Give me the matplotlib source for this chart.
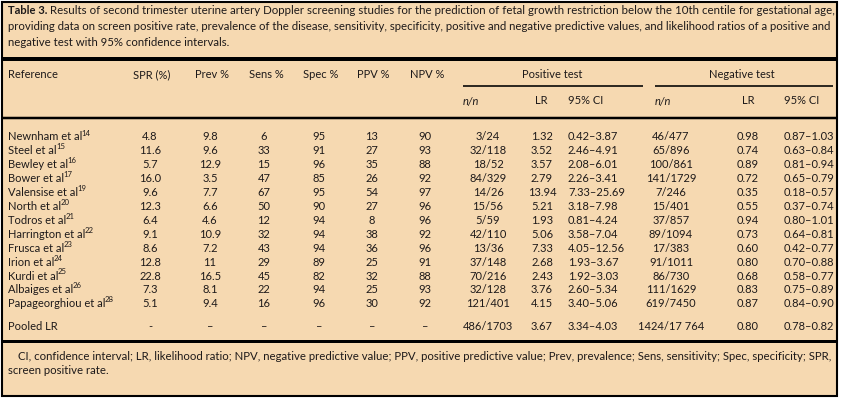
import matplotlib
matplotlib.use("Agg")
import matplotlib.pyplot as plt
from matplotlib.patches import Rectangle

plt.rcParams['font.family'] = ['Lato', 'DejaVu Sans']

# ---------------- data ----------------
caption_bold = "Table 3."
caption_l1 = (" Results of second trimester uterine artery Doppler screening studies for the prediction of fetal growth restriction "
              "below the 10th centile for gestational age,")
caption_l2 = ("providing data on screen positive rate, prevalence of the disease, sensitivity, specificity, positive and negative "
              "predictive values, and likelihood ratios of a positive and")
caption_l3 = "negative test with 95% confidence intervals."

col_headers = ["SPR (%)", "Prev %", "Sens %", "Spec %", "PPV %", "NPV %"]
group_headers = ["Positive test", "Negative test"]
sub_headers = ["n/n", "LR", "95% CI"]

refs = ["Newnham et al", "Steel et al", "Bewley et al", "Bower et al", "Valensise et al",
        "North et al", "Todros et al", "Harrington et al", "Frusca et al", "Irion et al",
        "Kurdi et al", "Albaiges et al", "Papageorghiou et al"]
refnums = ["14", "15", "16", "17", "19", "20", "21", "22", "23", "24", "25", "26", "28"]
spr = ["4.8", "11.6", "5.7", "16.0", "9.6", "12.3", "6.4", "9.1", "8.6", "12.8", "22.8", "7.3", "5.1"]
prev = ["9.8", "9.6", "12.9", "3.5", "7.7", "6.6", "4.6", "10.9", "7.2", "11", "16.5", "8.1", "9.4"]
sens = ["6", "33", "15", "47", "67", "50", "12", "32", "43", "29", "45", "22", "16"]
spec = ["95", "91", "96", "85", "95", "90", "94", "94", "94", "89", "82", "94", "96"]
ppv = ["13", "27", "35", "26", "54", "27", "8", "38", "36", "25", "32", "25", "30"]
npv = ["90", "93", "88", "92", "97", "96", "96", "92", "96", "91", "88", "93", "92"]
pos_nn = ["3/24", "32/118", "18/52", "84/329", "14/26", "15/56", "5/59", "42/110", "13/36",
          "37/148", "70/216", "32/128", "121/401"]
pos_lr = ["1.32", "3.52", "3.57", "2.79", "13.94", "5.21", "1.93", "5.06", "7.33", "2.68",
          "2.43", "3.76", "4.15"]
pos_ci = ["0.42–3.87", "2.46–4.91", "2.08–6.01", "2.26–3.41", "7.33–25.69", "3.18–7.98",
          "0.81–4.24", "3.58–7.04", "4.05–12.56", "1.93–3.67", "1.92–3.03", "2.60–5.34", "3.40–5.06"]
neg_nn = ["46/477", "65/896", "100/861", "141/1729", "7/246", "15/401", "37/857", "89/1094",
          "17/383", "91/1011", "86/730", "111/1629", "619/7450"]
neg_lr = ["0.98", "0.74", "0.89", "0.72", "0.35", "0.55", "0.94", "0.73", "0.60", "0.80",
          "0.68", "0.83", "0.87"]
neg_ci = ["0.87–1.03", "0.63–0.84", "0.81–0.94", "0.65–0.79", "0.18–0.57", "0.37–0.74",
          "0.80–1.01", "0.64–0.81", "0.42–0.77", "0.70–0.88", "0.58–0.77", "0.75–0.89", "0.84–0.90"]
pooled_label = "Pooled LR"
pooled = ["-", "–", "–", "–", "–", "–", "486/1703", "3.67", "3.34–4.03", "1424/17 764", "0.80", "0.78–0.82"]

foot_l1 = ("CI, confidence interval; LR, likelihood ratio; NPV, negative predictive value; PPV, positive predictive value; "
           "Prev, prevalence; Sens, sensitivity; Spec, specificity; SPR,")
foot_l2 = "screen positive rate."

# ---------------- layout ----------------
W, H = 844, 401
BG = "#F6D9B1"
INK = "#1E1A1A"
FS = 8.0

fig = plt.figure(figsize=(W / 100, H / 100), dpi=100)
fig.patch.set_facecolor("white")
ax = fig.add_axes([0, 0, 1, 1])
ax.set_xlim(0, W)
ax.set_ylim(H, 0)
ax.axis("off")
ax.add_patch(Rectangle((1.5, 1.5), 835.5, 394, facecolor=BG, edgecolor="black", linewidth=1.5))

renderer = fig.canvas.get_renderer()


def width_px(t):
    return t.get_window_extent(renderer=renderer).width


def txt(x, y, s, ha="left", fs=FS, **kw):
    return ax.text(x, y, s, ha=ha, va="center", fontsize=fs, color=INK, **kw)


def fit(x, y, s, target_w, fs=FS, **kw):
    t = txt(x, y, s, fs=fs, **kw)
    w = width_px(t)
    t.set_fontsize(fs * target_w / w)
    return t


def hrule(y, x0, x1, lw_px):
    ax.plot([x0, x1], [y, y], color="black", linewidth=lw_px * 0.72, solid_capstyle="butt")


# caption
tb = txt(8, 10, caption_bold, fs=8.0, fontweight="bold")
bw = width_px(tb)
fit(8 + bw, 10, caption_l1, 836 - 8 - bw, fs=8.0)
fit(8, 26, caption_l2, 832 - 8, fs=8.0)
t3 = txt(8, 42, caption_l3, fs=8.2)

# rules
hrule(58.5, 1.5, 837, 4)
hrule(86, 463, 643, 1.6)
hrule(86, 655, 833, 1.6)
hrule(117.5, 1.5, 837, 2.5)
hrule(341, 1.5, 837, 3)

# headers
y_h1, y_h2 = 75, 101
txt(8, y_h1, "Reference")
col_x = [152, 212, 266, 321, 373, 427]
for cx, h in zip(col_x, col_headers):
    txt(cx, y_h1, h, ha="center")
txt(552, y_h1, group_headers[0], ha="center")
txt(742, y_h1, group_headers[1], ha="center")
txt(463, y_h2, sub_headers[0], style="italic")
txt(541, y_h2, sub_headers[1], ha="center")
txt(568, y_h2, sub_headers[2])
txt(655, y_h2, sub_headers[0], style="italic")
txt(748, y_h2, sub_headers[1], ha="center")
txt(784, y_h2, sub_headers[2])

# body
val_x = [150, 210, 264, 319, 372, 425, 488, 542, 568, 671, 748, 784]
val_ha = ["center"] * 8 + ["left", "center", "center", "left"]
columns = [spr, prev, sens, spec, ppv, npv, pos_nn, pos_lr, pos_ci, neg_nn, neg_lr, neg_ci]
y0, dy = 137, 13.9
for i, (r, n) in enumerate(zip(refs, refnums)):
    y = y0 + i * dy
    t = txt(8, y, r)
    txt(8 + width_px(t) - 0.5, y - 4, n, fs=5.6)
    for cx, ha, col in zip(val_x, val_ha, columns):
        txt(cx, y, col[i], ha=ha)

yp = 327
txt(8, yp, pooled_label)
for cx, ha, v in zip(val_x, val_ha, pooled):
    txt(cx, yp, v, ha=ha)

# footnote
fit(18, 356, foot_l1, 836 - 18, fs=8.0)
txt(8, 371, foot_l2, fs=8.2)

fig.savefig("out.png", dpi=100, facecolor="white")
